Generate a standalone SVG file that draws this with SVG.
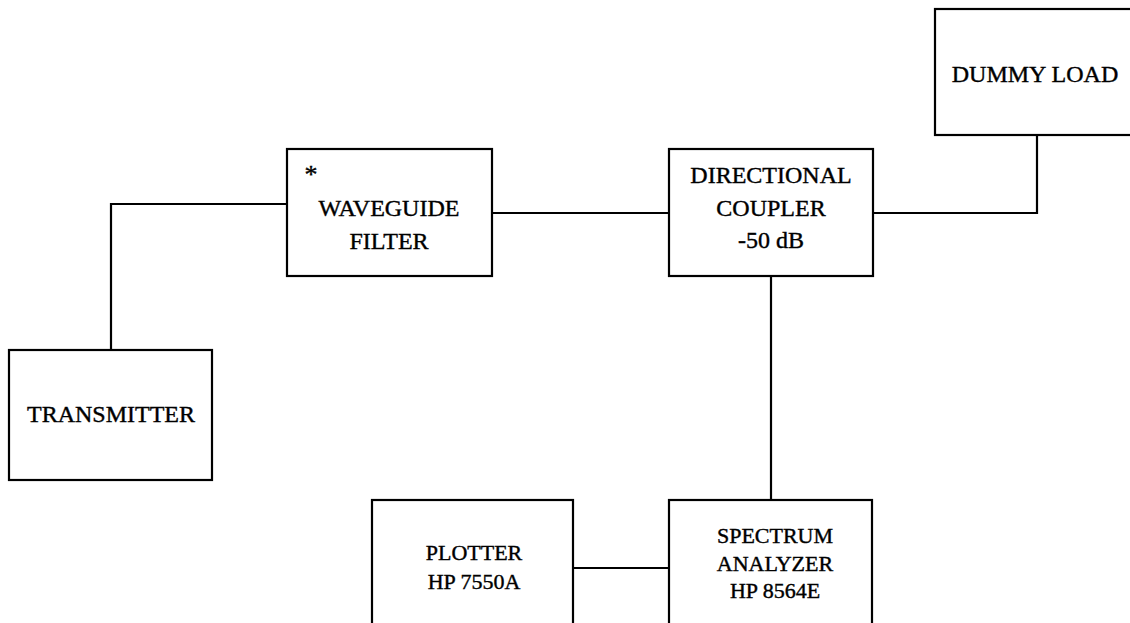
<svg xmlns="http://www.w3.org/2000/svg" width="1130" height="623" viewBox="0 0 1130 623">
<style>
.box{fill:#fff;stroke:#000;stroke-width:2.2}
.ln{fill:none;stroke:#000;stroke-width:2.2}
text{font-family:"Liberation Serif","Times New Roman",serif;font-size:24px;fill:#000;stroke:#000;stroke-width:0.4;text-anchor:middle}
.s{font-size:22px}
</style>
<rect width="1130" height="623" fill="#fff"/>
<g id="connectors">
<polyline class="ln" points="111,350 111,204 287,204"/>
<line class="ln" x1="492" y1="213" x2="669" y2="213"/>
<polyline class="ln" points="873,213 1037,213 1037,135"/>
<line class="ln" x1="771" y1="276" x2="771" y2="500"/>
<line class="ln" x1="573" y1="568" x2="669" y2="568"/>
</g>
<g id="transmitter">
<rect class="box" x="9" y="350" width="203" height="130"/>
<text x="111" y="422">TRANSMITTER</text>
</g>
<g id="waveguide-filter">
<rect class="box" x="287" y="149" width="205" height="127"/>
<text x="311" y="183" style="font-size:26px">*</text>
<text x="389" y="216">WAVEGUIDE</text>
<text x="389" y="249">FILTER</text>
</g>
<g id="directional-coupler">
<rect class="box" x="669" y="149" width="204" height="127"/>
<text x="771" y="183">DIRECTIONAL</text>
<text x="771" y="216">COUPLER</text>
<text x="771" y="248">-50 dB</text>
</g>
<g id="dummy-load">
<rect class="box" x="935" y="9" width="205" height="126"/>
<text x="1035" y="82">DUMMY LOAD</text>
</g>
<g id="plotter">
<rect class="box" x="372" y="500" width="201" height="140"/>
<text class="s" x="474" y="560">PLOTTER</text>
<text class="s" x="474" y="589">HP 7550A</text>
</g>
<g id="spectrum-analyzer">
<rect class="box" x="669" y="500" width="203" height="140"/>
<text class="s" x="775" y="543">SPECTRUM</text>
<text class="s" x="775" y="571">ANALYZER</text>
<text class="s" x="775" y="598">HP 8564E</text>
</g>
</svg>
